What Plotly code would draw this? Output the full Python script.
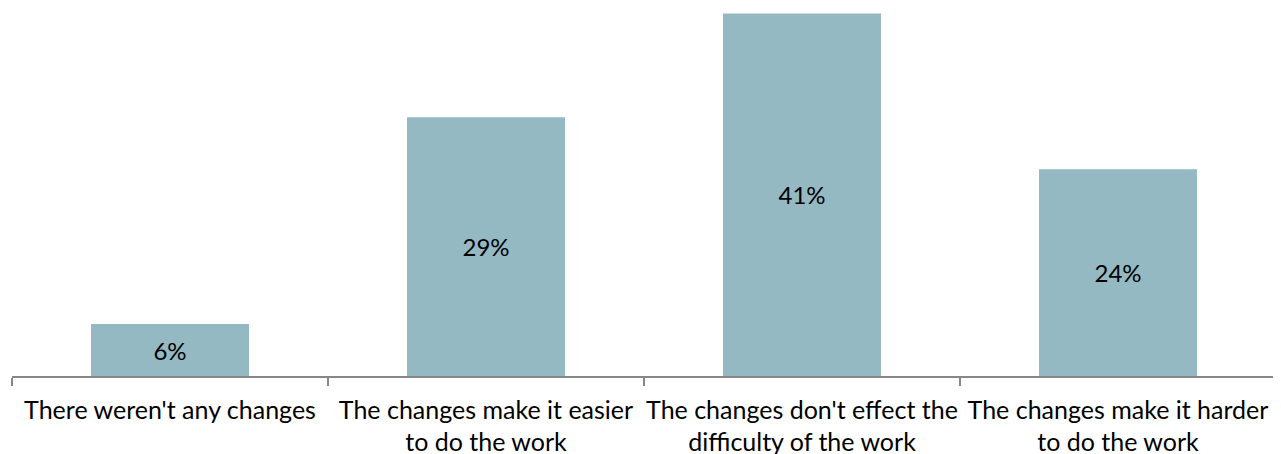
import plotly.graph_objects as go

categories = [
    "There weren't any changes",
    "The changes make it easier<br>to do the work",
    "The changes don't effect the<br>difficulty of the work",
    "The changes make it harder<br>to do the work",
]
values = [5.87, 29.25, 41.0, 23.38]
labels = ["6%", "29%", "41%", "24%"]

FONT = "Lato, Carlito, sans-serif"

fig = go.Figure(
    go.Bar(
        x=categories,
        y=values,
        text=labels,
        textposition="inside",
        insidetextanchor="middle",
        textangle=0,
        textfont=dict(family=FONT, size=24, color="#000000"),
        marker=dict(color="#94B9C2", line=dict(width=0)),
        hoverinfo="skip",
    )
)

# page body has an 8px default margin; compensate in figure margins
fig.update_layout(
    width=1273,
    height=454,
    margin=dict(l=4, r=5, t=0, b=86),
    paper_bgcolor="white",
    plot_bgcolor="white",
    bargap=0.5,
    showlegend=False,
    uniformtext=dict(minsize=24, mode="show"),
    font=dict(family=FONT, size=24, color="#000000"),
)
fig.update_xaxes(
    automargin=False,
    showline=True,
    linecolor="#878787",
    linewidth=1.5,
    ticks="outside",
    tickson="boundaries",
    ticklen=8,
    tickcolor="#878787",
    tickwidth=1.5,
    tickangle=0,
    ticklabelstandoff=11,
    tickfont=dict(family=FONT, size=25, color="#000000"),
    showgrid=False,
)
fig.update_yaxes(
    automargin=False,
    range=[0, 41.62],
    visible=False,
    showgrid=False,
    zeroline=False,
)

fig.write_html("out.html")
